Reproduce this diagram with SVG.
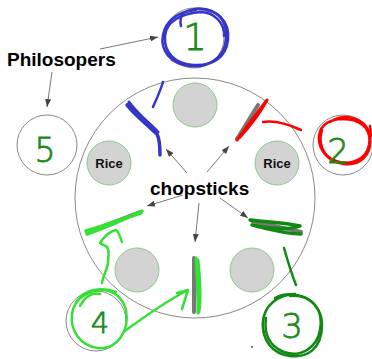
<svg xmlns="http://www.w3.org/2000/svg" width="372" height="359" viewBox="0 0 372 359">
  <defs>
    <marker id="arrow" markerUnits="userSpaceOnUse" markerWidth="8" markerHeight="6" refX="8" refY="3" orient="auto">
      <path d="M0,0 L8,3 L0,6 z" fill="#444"/>
    </marker>
    <style>
      .table { fill: #fff; stroke: #888; stroke-width: 1; }
      .seat { fill: #fff; stroke: #888; stroke-width: 1; }
      .rice { fill: #d3d3d3; stroke: #8cc88c; stroke-width: 1; }
      .rice-label { font-family: "Liberation Sans", Arial, sans-serif; font-weight: bold; font-size: 13px; fill: #111; text-anchor: middle; }
      .label { font-family: "Liberation Sans", Arial, sans-serif; font-weight: bold; font-size: 19px; fill: #000; }
      .stick { stroke: #777; stroke-width: 4; stroke-linecap: round; fill: none; }
      .conn { stroke: #555; stroke-width: 0.8; fill: none; marker-end: url(#arrow); }
      .ink { fill: none; stroke-linecap: round; stroke-linejoin: round; }
      .blue { stroke: #3535c8; }
      .red { stroke: #f00; }
      .lime { stroke: #33e033; }
      .dark { stroke: #118811; }
      .digit { font-family: "DejaVu Sans", "Liberation Sans", sans-serif; font-weight: 200; fill: #1a8a1a; stroke: #1a8a1a; stroke-width: 0.8; text-anchor: middle; }
    </style>
  </defs>

  <!-- the table -->
  <g id="table">
    <circle class="table" cx="195" cy="198" r="120"/>
  </g>

  <!-- rice bowls -->
  <g id="rice-top"><circle class="rice" cx="195" cy="105" r="22"/></g>
  <g id="rice-left"><circle class="rice" cx="109" cy="163" r="22"/><text class="rice-label" x="109" y="168">Rice</text></g>
  <g id="rice-right"><circle class="rice" cx="277" cy="163" r="22"/><text class="rice-label" x="277" y="168">Rice</text></g>
  <g id="rice-bottom-left"><circle class="rice" cx="137" cy="270" r="22"/></g>
  <g id="rice-bottom-right"><circle class="rice" cx="252" cy="270" r="22"/></g>

  <!-- chopsticks -->
  <g id="stick-upper-right"><line class="stick" x1="237" y1="139" x2="258" y2="105"/></g>
  <g id="stick-left"><line class="stick" x1="88" y1="232" x2="140" y2="212"/></g>
  <g id="stick-bottom"><line class="stick" x1="194" y1="258" x2="194" y2="312" stroke-width="3"/></g>
  <g id="stick-right"><line class="stick" x1="252" y1="221" x2="301" y2="232"/></g>

  <!-- philosopher seats -->
  <g id="seat-1"><circle class="seat" cx="194" cy="38" r="30"/></g>
  <g id="seat-2"><circle class="seat" cx="343" cy="145" r="30"/></g>
  <g id="seat-3"><circle class="seat" cx="292" cy="325" r="30"/></g>
  <g id="seat-4"><circle class="seat" cx="96" cy="321" r="30"/></g>
  <g id="seat-5"><circle class="seat" cx="47" cy="145" r="30"/></g>

  <!-- labels -->
  <g id="label-philosophers"><text class="label" x="7" y="66">Philosopers</text></g>
  <g id="label-chopsticks"><text class="label" x="150" y="195">chopsticks</text></g>

  <!-- connectors -->
  <g id="connectors">
    <line class="conn" x1="100" y1="49" x2="158" y2="37"/>
    <line class="conn" x1="52" y1="72" x2="47" y2="107"/>
    <line class="conn" x1="187" y1="173" x2="166" y2="149"/>
    <line class="conn" x1="207" y1="172" x2="229" y2="146"/>
    <line class="conn" x1="183" y1="195" x2="147" y2="206"/>
    <line class="conn" x1="199" y1="203" x2="195" y2="242"/>
    <line class="conn" x1="220" y1="198" x2="248" y2="218"/>
  </g>

  <!-- hand-drawn markings -->
  <g id="ink-blue" class="ink blue" stroke-width="2.5">
    <path d="M182 14 C200 2,228 10,226 38 C225 60,205 68,190 66 C170 64,160 50,163 35 C166 20,178 12,196 10"/>
    <path d="M196 9 C218 8,230 22,228 40 C226 58,212 66,194 65 C174 64,164 52,165 36 C166 22,180 14,200 12 C215 12,225 24,224 36"/>
    <path d="M183 13 C180 18,180 22,181 26"/>
    <path d="M163 82 C160 92,156 100,153 107"/>
    <path d="M127 105 C134 114,148 126,157 134 C160 140,160 148,160 155" stroke-width="3.5"/>
    <path d="M129 102 C136 112,148 122,158 132 M128 104 C132 110,136 116,140 118" stroke-width="3"/>
  </g>

  <g id="ink-red" class="ink red" stroke-width="2.5">
    <path d="M237 140 C246 128,256 114,267 100 C260 113,250 126,240 137 C248 126,257 113,265 103" stroke-width="3"/>
    <path d="M263 122 C275 120,288 124,301 130"/>
    <path d="M330 122 C345 112,368 118,370 138 C372 155,360 166,344 164 C328 162,318 150,319 136 C320 124,332 118,345 119"/>
    <path d="M340 119 C360 118,372 128,369 145 C366 160,350 166,336 161 C322 156,318 142,322 130"/>
    <path d="M370 126 L371 136"/>
  </g>

  <g id="ink-lime" class="ink lime" stroke-width="2.5">
    <path d="M87 234 C105 228,125 219,142 211 M86 231 C105 226,124 218,141 213" stroke-width="3.5"/>
    <path d="M102 283 C103 276,107 270,108 263 C108 256,110 251,107 247 C104 245,101 244,100 243 C104 237,110 231,116 230 C119 232,120 237,122 242"/>
    <path d="M125 331 C140 320,160 305,186 291 M177 293 L188 290 L182 309"/>
    <path d="M80 297 C95 284,120 288,126 310 C130 332,116 350,98 348 C80 346,70 330,72 314 C74 298,90 288,110 290"/>
    <path d="M76 302 C85 291,100 286,116 292 M80 306 C85 297,92 292,100 294"/>
    <path d="M196 258 C197 275,198 295,198 313 M198 260 C200 280,201 300,199 312" stroke-width="3"/>
  </g>

  <g id="ink-dark" class="ink dark" stroke-width="2.5">
    <path d="M250 220 C265 222,285 222,300 226 C290 230,270 229,252 225 C265 228,285 234,301 234" stroke-width="3.5"/>
    <path d="M284 248 C288 262,292 275,296 285"/>
    <path d="M275 298 C292 288,322 298,322 325 C322 350,306 358,290 356 C272 354,262 340,263 322 C264 305,278 295,295 294"/>
    <path d="M290 296 C312 294,324 310,320 330 C317 348,300 358,284 352 C268 346,264 332,266 318"/>
    <circle cx="252" cy="347" r="1" fill="#118811" stroke="none"/>
  </g>

  <!-- seat numbers -->
  <g id="numbers">
    <text class="digit" x="195" y="50" font-size="37">1</text>
    <text class="digit" x="338" y="163" font-size="34">2</text>
    <text class="digit" x="292" y="338" font-size="34">3</text>
    <text class="digit" x="100" y="333" font-size="29" fill="#116611" stroke="#116611">4</text>
    <text class="digit" x="45" y="162" font-size="33">5</text>
  </g>
</svg>
